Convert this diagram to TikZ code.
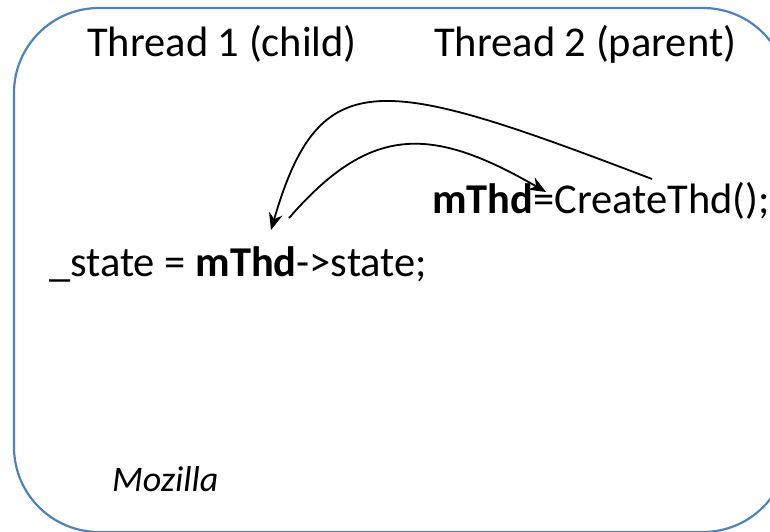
\documentclass[tikz,border=0pt]{standalone}
\usepackage{fontspec}
\setmainfont{Carlito}
\usetikzlibrary{arrows.meta}
\definecolor{frameblue}{RGB}{79,129,189}
\tikzset{
  lbl/.style={anchor=base west, inner sep=0pt, font=\fontsize{42.5}{50}\selectfont},
  note/.style={anchor=base west, inner sep=0pt, font=\fontsize{36}{43}\selectfont\itshape},
  flow/.style={line width=1.8pt, -{Stealth[length=17pt,width=14pt]}}
}
\begin{document}
\begin{tikzpicture}[x=1pt,y=-1pt]
  \useasboundingbox (0,0) rectangle (770,531);
  \clip (0,0) rectangle (770,531);
  % outer frame
  \draw[frameblue, line width=2.2pt, rounded corners=85pt] (14,8) rectangle (788,532);
  % column headings
  \node[lbl] (t1) at (87,56) {Thread 1 (child)};
  \node[lbl] (t2) at (434,56) {Thread 2 (parent)};
  % statements
  \node[lbl] (create) at (432,213) {\textbf{mThd}=CreateThd();};
  \node[lbl] (read) at (49,276) {\_state = \textbf{mThd}->state;};
  \node[note] (moz) at (112,491) {Mozilla};
  % arrow anchor points
  \coordinate (pOut) at (652,179);
  \coordinate (cIn) at (271,230);
  \coordinate (cOut) at (289,218);
  \coordinate (pIn) at (546,192);
  % arrows
  \draw[flow] (pOut) .. controls (380,75) and (320,62) .. (cIn);
  \draw[flow] (cOut) .. controls (370,125) and (430,125) .. (pIn);
\end{tikzpicture}
\end{document}
